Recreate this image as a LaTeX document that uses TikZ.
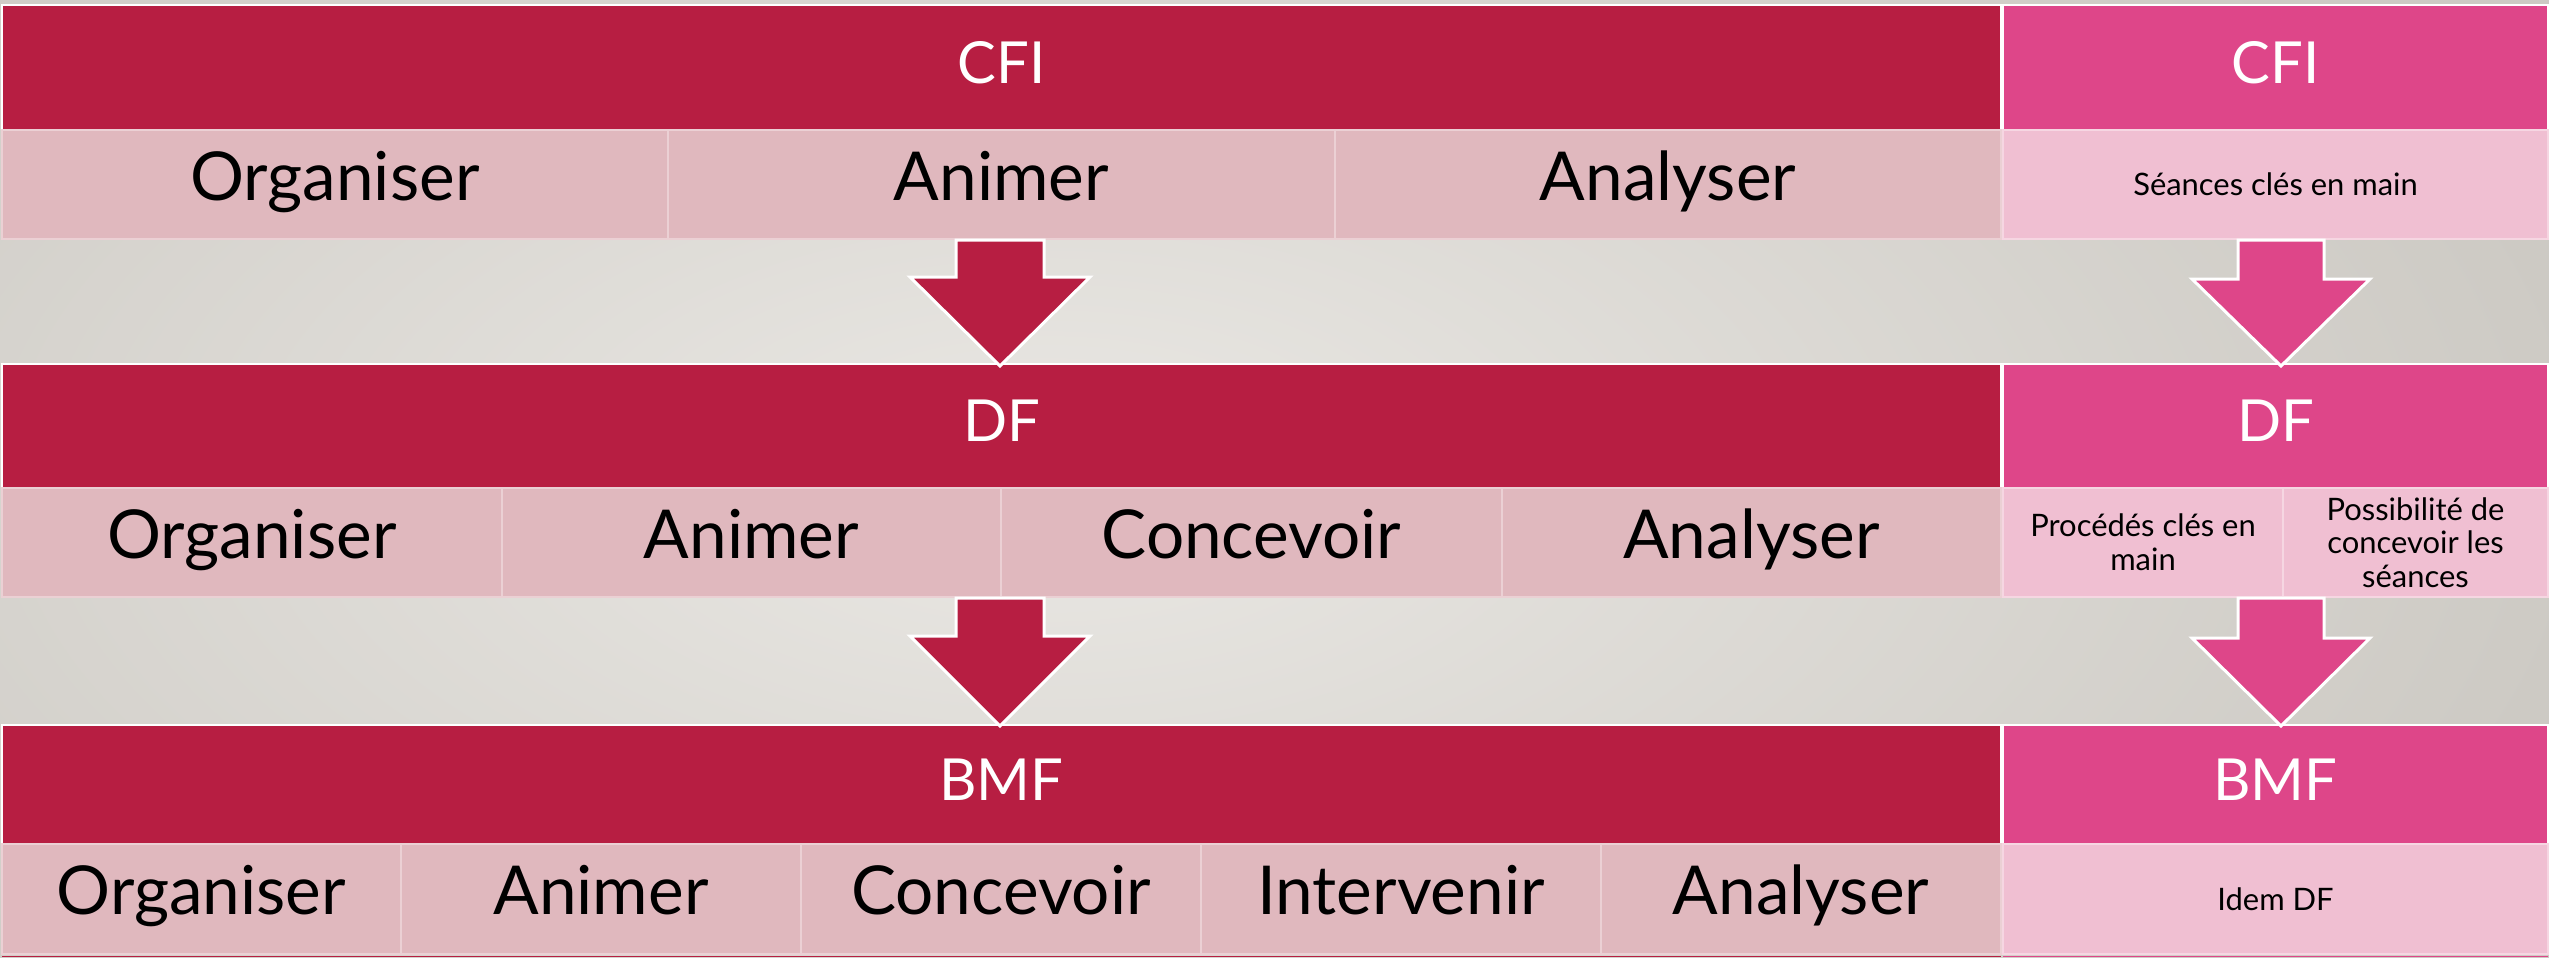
\documentclass[tikz,border=0pt]{standalone}
\usepackage{fontspec}
\setmainfont{Lato}
\definecolor{cred}{HTML}{B71E42}
\definecolor{cpink}{HTML}{DE4689}
\definecolor{clightL}{HTML}{E0B8BE}
\definecolor{clightR}{HTML}{F0BFD2}
\definecolor{cbordL}{HTML}{EBD0D4}
\definecolor{cbordR}{HTML}{F6D6E2}
\definecolor{bgin}{HTML}{EAE8E4}
\definecolor{bgout}{HTML}{CDCAC4}
\newcommand\hdrsz{\fontsize{16.5}{19}\selectfont}
\newcommand\cellbigsz{\fontsize{19.2}{23}\selectfont}
\newcommand\cellsmsz{\fontsize{8.8}{9.6}\selectfont}
\newcommand\cellbox[7]{\node[#6, minimum width={(#4-#2)*0.1mm}, minimum height={(#5-#3)*0.1mm}] (#1) at (#2,#3) {#7};}
\tikzset{
 base/.style={anchor=north west, inner sep=0pt, outer sep=0pt, align=center, line width=0.22mm},
 capc/.style={text height=0.9em, text depth=0pt},
 hdrL/.style={base, capc, fill=cred, draw=white, text=white, font=\hdrsz},
 hdrR/.style={base, capc, fill=cpink, draw=white, text=white, font=\hdrsz},
 cellL/.style={base, capc, fill=clightL, draw=cbordL, text=black, font=\cellbigsz},
 cellR/.style={base, fill=clightR, draw=cbordR, text=black, font=\cellsmsz},
 arrL/.style={fill=cred, draw=white, line width=0.3mm, line join=miter},
 arrR/.style={fill=cpink, draw=white, line width=0.3mm, line join=miter},
}
\begin{document}
\begin{tikzpicture}[x=0.1mm,y=-0.1mm]
\useasboundingbox (0,0) rectangle (2549,957);
\begin{scope}
\clip (0,0) rectangle (2549,957);
\shade[inner color=bgin, outer color=bgout] (-500,-300) rectangle (2600,1257);
\end{scope}
% Row CFI
\cellbox{cfiL}{2}{5}{2001}{130}{hdrL}{CFI}
\cellbox{cfiR}{2003}{5}{2548}{130}{hdrR}{CFI}
\cellbox{a1}{2}{130}{668}{239}{cellL}{Organiser}
\cellbox{a2}{668}{130}{1335}{239}{cellL}{Animer}
\cellbox{a3}{1335}{130}{2001}{239}{cellL}{Analyser}
\cellbox{ar}{2003}{130}{2548}{239}{cellR}{Séances clés en main}
% Row DF
\cellbox{dfL}{2}{364}{2001}{488}{hdrL}{DF}
\cellbox{dfR}{2003}{364}{2548}{488}{hdrR}{DF}
\cellbox{b1}{2}{488}{502}{597}{cellL}{Organiser}
\cellbox{b2}{502}{488}{1001}{597}{cellL}{Animer}
\cellbox{b3}{1001}{488}{1502}{597}{cellL}{Concevoir}
\cellbox{b4}{1502}{488}{2001}{597}{cellL}{Analyser}
\cellbox{br1}{2003}{488}{2283}{597}{cellR}{Procédés clés en\\main}
\cellbox{br2}{2283}{488}{2548}{597}{cellR}{Possibilité de\\concevoir les\\séances}
% Row BMF
\cellbox{bmfL}{2}{725}{2001}{844}{hdrL}{BMF}
\cellbox{bmfR}{2003}{725}{2548}{844}{hdrR}{BMF}
\cellbox{c1}{2}{844}{401}{954}{cellL}{Organiser}
\cellbox{c2}{401}{844}{801}{954}{cellL}{Animer}
\cellbox{c3}{801}{844}{1201}{954}{cellL}{Concevoir}
\cellbox{c4}{1201}{844}{1601}{954}{cellL}{Intervenir}
\cellbox{c5}{1601}{844}{2001}{954}{cellL}{Analyser}
\cellbox{cr}{2003}{844}{2548}{954}{cellR}{Idem DF}
% edge of the next band, just visible at the bottom
\fill[cred] (2,955.5) rectangle (2001,957);
\fill[cpink] (2003,955.5) rectangle (2548,957);
% Arrows
\draw[arrL] (956,240) -- (1044,240) -- (1044,277) -- (1090,277) -- (1000,366) -- (910,277) -- (956,277) -- cycle;
\draw[arrL] (956,598) -- (1044,598) -- (1044,636) -- (1090,636) -- (1000,726) -- (910,636) -- (956,636) -- cycle;
\draw[arrR] (2238,240) -- (2324,240) -- (2324,279) -- (2370,279) -- (2281,366) -- (2192,279) -- (2238,279) -- cycle;
\draw[arrR] (2238,598) -- (2324,598) -- (2324,638) -- (2370,638) -- (2281,726) -- (2192,638) -- (2238,638) -- cycle;
\end{tikzpicture}
\end{document}
